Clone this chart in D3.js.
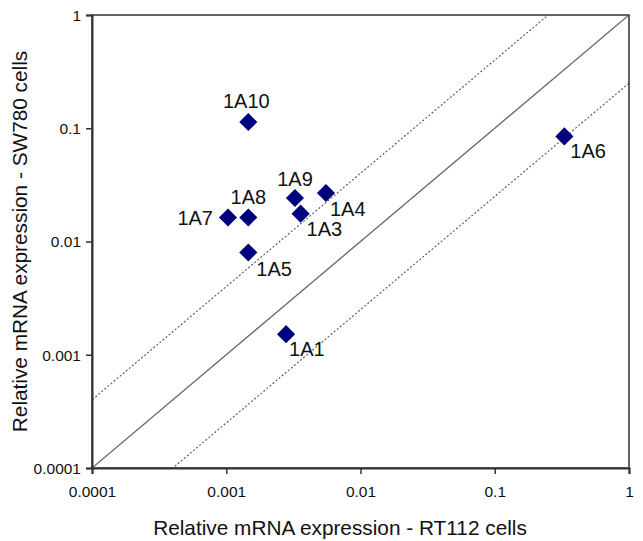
<!DOCTYPE html>
<html>
<head>
<meta charset="utf-8">
<script src="https://cdn.jsdelivr.net/npm/d3@7"></script>
<style>
body { margin: 0; background: #fff; }
text { font-family: "Liberation Sans", Arial, sans-serif; fill: #111; }
</style>
</head>
<body>
<svg id="chart"></svg>
<script>
// sample names and their expression in the two cell lines
var genes = ["1A1", "1A3", "1A4", "1A5", "1A6", "1A7", "1A8", "1A9", "1A10"];
var rt112 = [0.00279, 0.00358, 0.00553, 0.00146, 0.330, 0.00103, 0.00146, 0.00325, 0.00146];
var sw780 = [0.00152, 0.0176, 0.0268, 0.0080, 0.0847, 0.0163, 0.0163, 0.0242, 0.1135];
// where each label sits relative to its diamond
var labelDx = [3, 6, 4, 8, 6, -15, 0, 0, -2];
var labelDy = [22, 22, 23, 24, 22, 8, -13, -12, -14];
var labelAnchor = ["start", "start", "start", "start", "start", "end", "middle", "middle", "middle"];
var tickValues = [0.0001, 0.001, 0.01, 0.1, 1];
var foldLines = [1, 4, 0.25];

var width = 643, height = 541;
var margin = { top: 15, right: 14, bottom: 73, left: 92 };

var svg = d3.select("#chart").attr("width", width).attr("height", height);
var g = svg.append("g").attr("transform", "translate(" + margin.left + "," + margin.top + ")");
var w = width - margin.left - margin.right;
var h = height - margin.top - margin.bottom;

var x = d3.scaleLog().domain([0.0001, 1]).range([0, w]);
var y = d3.scaleLog().domain([0.0001, 1]).range([h, 0]);

var fmt = function (d) { return String(+d.toPrecision(1)); };

// clip for the reference lines
g.append("clipPath").attr("id", "clip")
  .append("rect").attr("width", w).attr("height", h);

// identity and 4-fold lines
var line = d3.line().x(function (d) { return x(d[0]); }).y(function (d) { return y(d[1]); });
foldLines.forEach(function (f) {
  g.append("path")
    .attr("clip-path", "url(#clip)")
    .datum([[0.00001, 0.00001 * f], [10, 10 * f]])
    .attr("d", line)
    .attr("fill", "none")
    .attr("stroke", f === 1 ? "#666" : "#555")
    .attr("stroke-width", f === 1 ? 1.3 : 1.1)
    .attr("stroke-dasharray", f === 1 ? null : "2,2");
});

// frame
g.append("rect").attr("width", w).attr("height", h)
  .attr("fill", "none").attr("stroke", "#333").attr("stroke-width", 1.5);

var xAxis = g.append("g").attr("transform", "translate(0," + h + ")")
  .call(d3.axisBottom(x).tickValues(tickValues).tickFormat(fmt).tickSize(6).tickPadding(12));
var yAxis = g.append("g")
  .call(d3.axisLeft(y).tickValues(tickValues).tickFormat(fmt).tickSize(6).tickPadding(5));
[xAxis, yAxis].forEach(function (a) {
  a.attr("font-size", null).attr("font-family", null);
  a.select(".domain").attr("stroke", "#333").attr("stroke-width", 2);
  a.selectAll(".tick line").attr("stroke", "#333").attr("stroke-width", 1.5);
  a.selectAll(".tick text")
    .style("font-size", "15.5px")
    .style("font-family", "'Liberation Sans', Arial, sans-serif")
    .style("fill", "#111");
});
yAxis.selectAll(".tick text").attr("dy", "0.35em");

// points
var pts = genes.map(function (n, i) { return { name: n, x: rt112[i], y: sw780[i], i: i }; });
g.selectAll("path.pt").data(pts).enter().append("path")
  .attr("class", "pt")
  .attr("d", d3.symbol().type(d3.symbolDiamond2).size(210))
  .attr("transform", function (d) { return "translate(" + x(d.x) + "," + y(d.y) + ")"; })
  .attr("fill", "#00007e");

g.selectAll("text.lbl").data(pts).enter().append("text")
  .attr("class", "lbl")
  .attr("x", function (d) { return x(d.x) + labelDx[d.i]; })
  .attr("y", function (d) { return y(d.y) + labelDy[d.i]; })
  .attr("text-anchor", function (d) { return labelAnchor[d.i]; })
  .style("font-size", "20px")
  .text(function (d) { return d.name; });

// axis titles
svg.append("text")
  .attr("x", 340).attr("y", 535)
  .attr("text-anchor", "middle").style("font-size", "20.8px")
  .text("Relative mRNA expression - RT112 cells");
svg.append("text")
  .attr("transform", "translate(27," + (margin.top + h / 2) + ") rotate(-90)")
  .attr("text-anchor", "middle").style("font-size", "20.8px")
  .text("Relative mRNA expression - SW780 cells");
</script>
</body>
</html>
